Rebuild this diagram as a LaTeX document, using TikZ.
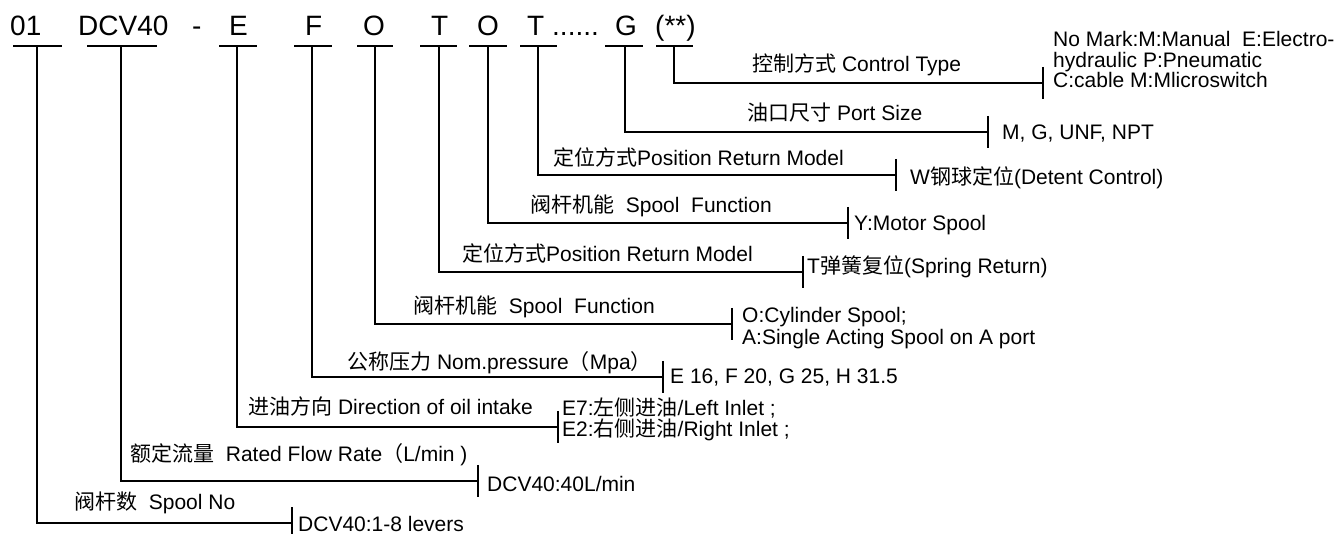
\documentclass[tikz,border=0pt]{standalone}
\usepackage{fontspec}
\setmainfont{Liberation Sans}
\newfontfamily\cjk{Noto Sans CJK SC}
\begin{document}
\begin{tikzpicture}[x=1pt,y=-1pt,
  code/.style={anchor=base west,inner sep=0pt,font=\fontsize{28}{32}\selectfont},
  lab/.style={anchor=base west,inner sep=0pt,font=\fontsize{21}{25}\selectfont},
  val/.style={anchor=base west,inner sep=0pt,font=\fontsize{21}{25}\selectfont},
  wire/.style={line width=2pt},
  uline/.style={line width=2pt},
  tickbar/.style={line width=1.6pt}]
\useasboundingbox (0,0) rectangle (1342,534);

% code row
\node[code] (c01)   at (10,36)  {01};
\node[code] (cdcv)  at (78,36)  {DCV40};
\node[code] (cdash) at (192,36) {-};
\node[code] (cE)    at (229,36) {E};
\node[code] (cF)    at (305,36) {F};
\node[code] (cO1)   at (363,36) {O};
\node[code] (cT1)   at (431,36) {T};
\node[code] (cO2)   at (477,36) {O};
\node[code] (cT2)   at (527,36) {T};
\node[code] (cdots) at (552,36) {......};
\node[code] (cG)    at (615,36) {G};
\node[code] (cst)   at (655,36) {(**)};

% underlines, leaders and end bars
\foreach \n/\a/\b/\m/\tx/\ty in {
  a/13/62/37/292/523,
  b/87/157/121/478/481,
  c/219/257/237/558/427,
  d/294/332/312/663/377,
  e/357/393/375/732/324,
  f/420/457/439/803/272,
  g/469/507/488/848/223,
  h/520/557/538/896/175,
  i/605/643/625/988/132,
  j/656/693/674/1043/83}{
  \draw[uline] (\a,46) -- (\b,46);
  \coordinate (u\n) at (\m,46);
  \coordinate (k\n) at (\tx,\ty);
  \draw[wire] (u\n) |- (k\n);
  \draw[tickbar] ([yshift=16pt]k\n) -- ([yshift=-16pt]k\n);
}

% labels
\node[lab] (l1)  at (752,72)  {{\cjk 控制方式} Control Type};
\node[lab] (l2)  at (747,121) {{\cjk 油口尺寸} Port Size};
\node[lab] (l3)  at (553,166) {{\cjk 定位方式}Position Return Model};
\node[lab] (l4)  at (530,213) {{\cjk 阀杆机能}\ \ Spool\ \ Function};
\node[lab] (l5)  at (462,262) {{\cjk 定位方式}Position Return Model};
\node[lab] (l6)  at (413,314) {{\cjk 阀杆机能}\ \ Spool\ \ Function};
\node[lab] (l7)  at (347,370) {{\cjk 公称压力} Nom.pressure{\cjk （}Mpa{\cjk ）}};
\node[lab] (l8)  at (248,415) {{\cjk 进油方向} Direction of oil intake};
\node[lab] (l9)  at (130,462) {{\cjk 额定流量}\ \ Rated Flow Rate{\cjk （}L/min )};
\node[lab] (l10) at (74,510)  {{\cjk 阀杆数}\ \ Spool No};

% values
\node[val] (v1a) at (1053,47)  {No Mark:M:Manual\ \ E:Electro-};
\node[val] (v1b) at (1053,68)  {hydraulic P:Pneumatic};
\node[val] (v1c) at (1053,88)  {C:cable M:Mlicroswitch};
\node[val] (v2)  at (1002,140) {M, G, UNF, NPT};
\node[val] (v3)  at (910,185)  {W{\cjk 钢球定位}(Detent Control)};
\node[val] (v4)  at (854,231)  {Y:Motor Spool};
\node[val] (v5)  at (807,274)  {T{\cjk 弹簧复位}(Spring Return)};
\node[val] (v6a) at (742,323)  {O:Cylinder Spool;};
\node[val] (v6b) at (742,345)  {A:Single Acting Spool on A port};
\node[val] (v7)  at (670,384)  {E 16, F 20, G 25, H 31.5};
\node[val] (v8a) at (562,416)  {E7:{\cjk 左侧进油}/Left Inlet ;};
\node[val] (v8b) at (562,437)  {E2:{\cjk 右侧进油}/Right Inlet ;};
\node[val] (v9)  at (487,492)  {DCV40:40L/min};
\node[val] (v10) at (298,531)  {DCV40:1-8 levers};
\end{tikzpicture}
\end{document}
